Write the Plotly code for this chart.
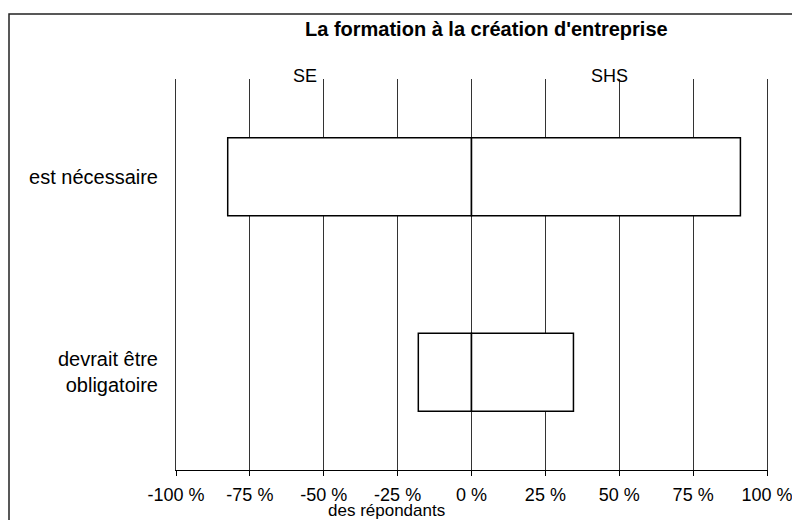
import plotly.graph_objects as go

categories = ["est nécessaire", "devrait être<br>obligatoire"]
se_values = [-82.5, -18.0]     # SE (left side, % des répondants)
shs_values = [91.0, 34.5]      # SHS (right side)
tick_vals = [-100, -75, -50, -25, 0, 25, 50, 75, 100]
tick_text = ["-100 %", "-75 %", "-50 %", "-25 %", "0 %", "25 %", "50 %", "75 %", "100 %"]
boundary_vals = [-0.5, 0.5, 1.5]

FONT = "Liberation Sans, Arial, sans-serif"

# page offset (browser body margin) is 8px; plot area in page pixels: x 176..767, y 79..470
PL, PR, PT, PB = 176, 767, 79, 470
def px_x(p):
    return (p - PL) / (PR - PL)
def px_y(p):
    return (PB - p) / (PB - PT)

fig = go.Figure()
bar_style = dict(marker=dict(color="white", line=dict(color="black", width=1.5)),
                 width=0.4, orientation="h", hoverinfo="x+y")
fig.add_trace(go.Bar(name="SE", y=categories, x=se_values, **bar_style))
fig.add_trace(go.Bar(name="SHS", y=categories, x=shs_values, **bar_style))

fig.update_layout(
    width=800, height=520,
    margin=dict(l=PL - 8, r=800 - (PR - 8), t=PT - 8, b=520 - (PB - 8)),
    paper_bgcolor="white", plot_bgcolor="white",
    barmode="relative",
    showlegend=False,
    font=dict(family=FONT, color="black", size=17),
    xaxis=dict(
        range=[-100, 100], tickvals=tick_vals, ticktext=tick_text,
        showgrid=True, gridcolor="#333333", gridwidth=1,
        zeroline=False, showline=True, linecolor="black", linewidth=1,
        ticks="outside", ticklen=5, tickcolor="black",
        ticklabelstandoff=3, tickfont=dict(size=18),
    ),
    yaxis=dict(
        type="category", categoryarray=categories, range=[1.5, -0.5],
        showgrid=False, zeroline=False, showline=True, mirror=True,
        linecolor="#333333", linewidth=1, ticks="",
        ticklabelstandoff=13, tickfont=dict(size=20), layer="below traces",
    ),
    yaxis2=dict(
        overlaying="y", anchor="free", position=0.5, range=[1.5, -0.5],
        tickvals=boundary_vals, showticklabels=False, showgrid=False, zeroline=False,
        showline=True, linecolor="#888888", linewidth=1,
        ticks="outside", ticklen=5, tickcolor="black", layer="below traces",
    ),
    annotations=[
        dict(text="<b>La formation à la création d'entreprise</b>", x=px_x(487), xref="paper",
             y=px_y(29), yref="paper", showarrow=False, font=dict(size=20),
             xanchor="center", yanchor="middle"),
        dict(text="SE", x=px_x(305), xref="paper", y=px_y(76), yref="paper",
             showarrow=False, font=dict(size=18), xanchor="center", yanchor="middle"),
        dict(text="SHS", x=px_x(609), xref="paper", y=px_y(76), yref="paper",
             showarrow=False, font=dict(size=18), xanchor="center", yanchor="middle"),
        dict(text="des répondants", x=px_x(386), xref="paper",
             y=px_y(511), yref="paper", showarrow=False, font=dict(size=17),
             xanchor="center", yanchor="middle"),
    ],
    shapes=[
        dict(type="rect", xref="paper", yref="paper",
             x0=px_x(9), x1=px_x(830), y0=px_y(560), y1=px_y(14),
             line=dict(color="#222222", width=1.5), fillcolor="rgba(0,0,0,0)"),
    ],
)

fig.write_html("out.html")
